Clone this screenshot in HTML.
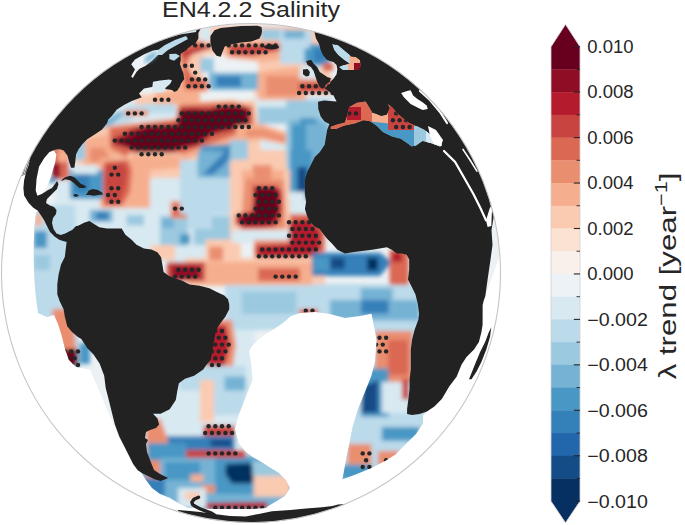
<!DOCTYPE html><html><head><meta charset="utf-8"><style>html,body{margin:0;padding:0;background:#fff}body{width:685px;height:525px;overflow:hidden}svg{display:block}text{font-family:"Liberation Sans",sans-serif;fill:#262626}</style></head><body>
<svg width="685" height="525" viewBox="0 0 685 525">
<defs><clipPath id="g"><circle cx="251" cy="273" r="249.5"/></clipPath><clipPath id="dom"><polygon points="100.0,0.0 470.0,0.0 520.0,200.0 484.0,300.0 482.0,325.0 479.0,342.0 474.0,350.0 466.0,357.0 461.0,364.0 456.0,377.0 449.0,387.0 442.0,399.0 434.0,406.0 423.0,415.0 423.0,423.5 416.0,434.0 405.8,444.0 395.5,454.4 385.0,461.0 371.5,468.0 354.3,475.0 340.6,480.0 330.0,485.0 300.0,490.0 285.0,496.0 270.0,505.0 266.0,508.0 252.0,509.0 238.0,509.0 222.0,509.0 210.0,509.0 196.0,508.0 188.0,508.0 180.0,504.0 170.0,498.0 160.0,494.0 152.0,488.0 146.0,480.0 120.0,440.0 90.0,370.0 76.0,367.0 69.0,360.0 65.0,349.0 61.5,335.0 58.0,324.0 54.0,315.0 47.0,317.0 38.0,313.0 36.0,298.0 34.4,280.0 33.7,262.0 33.7,244.0 34.4,226.0 36.0,213.0 40.0,208.0 45.0,150.0 60.0,120.0"/></clipPath><filter id="bl" x="-5%" y="-5%" width="110%" height="110%"><feGaussianBlur stdDeviation="2.2"/></filter></defs>
<g clip-path="url(#g)">
<rect x="0" y="0" width="685" height="525" fill="#fff"/>
<g clip-path="url(#dom)">
<polygon points="100.0,0.0 470.0,0.0 520.0,200.0 484.0,300.0 482.0,325.0 479.0,342.0 474.0,350.0 466.0,357.0 461.0,364.0 456.0,377.0 449.0,387.0 442.0,399.0 434.0,406.0 423.0,415.0 423.0,423.5 416.0,434.0 405.8,444.0 395.5,454.4 385.0,461.0 371.5,468.0 354.3,475.0 340.6,480.0 330.0,485.0 300.0,490.0 285.0,496.0 270.0,505.0 266.0,508.0 252.0,509.0 238.0,509.0 222.0,509.0 210.0,509.0 196.0,508.0 188.0,508.0 180.0,504.0 170.0,498.0 160.0,494.0 152.0,488.0 146.0,480.0 120.0,440.0 90.0,370.0 76.0,367.0 69.0,360.0 65.0,349.0 61.5,335.0 58.0,324.0 54.0,315.0 47.0,317.0 38.0,313.0 36.0,298.0 34.4,280.0 33.7,262.0 33.7,244.0 34.4,226.0 36.0,213.0 40.0,208.0 45.0,150.0 60.0,120.0" fill="#ecf1f4"/>
<g filter="url(#bl)">
<polygon points="165.0,26.0 330.0,26.0 330.0,100.0 255.0,100.0 250.0,60.0 205.0,60.0 200.0,95.0 165.0,95.0" fill="#facab1"/>
<polygon points="60.0,95.0 135.0,95.0 135.0,160.0 60.0,160.0" fill="#d8e9f1"/>
<polygon points="135.0,95.0 200.0,92.0 200.0,105.0 255.0,100.0 262.0,160.0 135.0,165.0" fill="#facab1"/>
<polygon points="255.0,95.0 335.0,95.0 335.0,215.0 285.0,215.0 285.0,150.0 262.0,150.0" fill="#d8e9f1"/>
<polygon points="55.0,160.0 240.0,160.0 240.0,262.0 55.0,262.0" fill="#d8e9f1"/>
<polygon points="230.0,150.0 290.0,150.0 292.0,240.0 230.0,240.0" fill="#facab1"/>
<polygon points="185.0,258.0 325.0,258.0 325.0,286.0 185.0,286.0" fill="#facab1"/>
<polygon points="225.0,284.0 425.0,284.0 425.0,330.0 225.0,330.0" fill="#bbdaea"/>
<polygon points="140.0,330.0 255.0,330.0 255.0,460.0 140.0,460.0" fill="#d8e9f1"/>
<polygon points="140.0,455.0 300.0,455.0 300.0,512.0 140.0,512.0" fill="#75b2d4"/>
<polygon points="335.0,315.0 430.0,315.0 430.0,485.0 335.0,485.0" fill="#bbdaea"/>
<polygon points="30.0,205.0 75.0,205.0 80.0,372.0 30.0,372.0" fill="#bbdaea"/>
<polygon points="176.0,40.0 205.0,40.0 205.0,50.0 192.0,56.0 188.0,70.0 194.0,78.0 208.0,80.0 208.0,92.0 172.0,92.0 182.0,80.0 180.0,62.0 176.0,50.0" fill="#f6af8e"/>
<polygon points="177.0,42.0 206.0,42.0 204.0,50.0 192.0,54.0 186.0,64.0 192.0,76.0 207.0,81.0 206.0,90.0 185.0,90.0 183.0,75.0 181.0,58.0" fill="#da6853"/>
<polygon points="180.0,53.0 212.0,44.0 212.0,48.0 184.0,56.0" fill="#b41c2d"/>
<polygon points="199.0,27.0 211.0,27.0 211.0,41.0 199.0,41.0" fill="#d8e9f1"/>
<polygon points="205.0,55.0 258.0,55.0 258.0,73.0 205.0,73.0" fill="#ecf2f5"/>
<polygon points="209.0,72.5 258.0,72.5 258.0,90.0 209.0,90.0" fill="#75b2d4"/>
<polygon points="216.0,76.0 241.0,76.0 241.0,87.0 216.0,87.0" fill="#3480b9"/>
<polygon points="200.0,58.0 214.0,58.0 214.0,72.0 200.0,72.0" fill="#9bc9e0"/>
<polygon points="222.0,42.0 290.0,41.0 292.0,58.0 262.0,62.0 226.0,58.0" fill="#f6af8e"/>
<polygon points="228.0,45.0 282.0,44.0 282.0,50.0 264.0,53.5 253.0,56.0 230.0,55.0" fill="#c84440"/>
<polygon points="261.0,29.0 285.0,29.0 285.0,40.0 261.0,40.0" fill="#9bc9e0"/>
<polygon points="280.0,30.0 312.0,30.0 312.0,64.0 280.0,64.0" fill="#bbdaea"/>
<polygon points="284.0,30.0 304.5,30.0 304.5,38.4 284.0,38.4" fill="#75b2d4"/>
<polygon points="304.5,48.6 316.7,48.6 316.7,63.0 304.5,63.0" fill="#4997c5"/>
<polygon points="258.0,72.0 305.0,66.0 306.0,100.0 258.0,100.0" fill="#f6af8e"/>
<polygon points="266.0,76.0 298.0,76.0 298.0,96.0 266.0,96.0" fill="#ea8e70"/>
<polygon points="310.0,44.0 330.0,44.0 330.0,66.0 310.0,66.0" fill="#4997c5"/>
<polygon points="314.0,49.0 326.0,49.0 326.0,62.0 314.0,62.0" fill="#3480b9"/>
<polygon points="300.0,66.0 320.0,66.0 320.0,80.0 300.0,80.0" fill="#d8e9f1"/>
<polygon points="298.0,79.0 333.0,79.0 333.0,93.0 298.0,93.0" fill="#ea8e70"/>
<polygon points="299.0,83.0 332.0,83.0 332.0,92.0 299.0,92.0" fill="#c84440"/>
<polygon points="323.0,63.0 333.0,63.0 333.0,71.0 323.0,71.0" fill="#da6853"/>
<polygon points="154.7,92.0 200.0,92.0 200.0,104.0 154.7,104.0" fill="#f6af8e"/>
<polygon points="105.2,121.0 130.0,105.7 150.0,103.8 176.0,104.0 176.0,118.0 150.0,120.0 131.9,121.0 112.9,128.6 97.6,138.1 90.0,147.6 84.3,143.8 93.8,132.4" fill="#bbdaea"/>
<polygon points="100.0,123.0 118.0,112.0 126.0,112.0 112.0,124.0 98.0,134.0" fill="#75b2d4"/>
<polygon points="132.7,113.0 177.0,113.0 177.0,124.0 132.7,124.0" fill="#d8e9f1"/>
<polygon points="125.0,110.0 148.0,110.0 148.0,116.0 125.0,116.0" fill="#ea8e70"/>
<polygon points="76.0,132.0 112.0,126.0 118.0,168.0 76.0,168.0" fill="#facab1"/>
<polygon points="82.0,140.0 110.0,134.0 116.0,166.0 84.0,166.0" fill="#f6af8e"/>
<polygon points="90.0,148.0 108.0,148.0 108.0,162.0 90.0,162.0" fill="#ea8e70"/>
<polygon points="108.0,126.0 176.0,118.0 180.0,103.0 232.0,100.0 254.0,105.0 256.0,130.0 240.0,140.0 210.0,150.0 185.0,160.0 160.0,162.0 130.0,162.0 105.0,152.0" fill="#f6af8e"/>
<polygon points="110.0,128.0 176.0,120.0 179.0,105.0 232.0,103.0 252.0,107.0 253.0,129.0 235.0,135.0 210.0,144.0 185.0,153.0 160.0,159.0 130.0,158.0 110.0,148.0" fill="#da6853"/>
<polygon points="130.4,130.0 146.7,125.4 177.1,124.2 179.4,109.0 193.4,107.8 207.5,109.0 221.5,105.5 240.2,105.5 249.5,109.0 249.5,127.7 230.8,130.0 212.1,134.7 198.1,145.2 181.8,148.7 170.1,153.4 158.4,155.7 139.7,155.7 130.4,148.7 114.0,144.0 111.7,139.4 123.4,134.7" fill="#900d26"/>
<polygon points="128.0,140.0 147.0,129.0 178.0,127.0 182.0,112.0 205.0,111.0 232.0,108.0 246.0,110.0 246.0,124.0 230.0,127.0 210.0,132.0 196.0,142.0 178.0,146.0 158.0,152.0 140.0,152.0 128.0,146.0 118.0,142.0" fill="#67001f"/>
<polygon points="200.4,146.0 231.0,144.0 228.0,160.0 212.0,172.0 200.0,172.0" fill="#4997c5"/>
<polygon points="214.0,150.0 226.0,150.0 220.0,162.0 210.0,166.0" fill="#2267ac"/>
<polygon points="258.0,107.0 286.0,107.0 286.0,125.0 258.0,125.0" fill="#9bc9e0"/>
<polygon points="262.0,124.0 286.0,124.0 286.0,135.0 262.0,135.0" fill="#ecf2f5"/>
<polygon points="236.0,126.0 262.0,124.0 292.0,134.0 292.0,146.0 262.0,140.0 236.0,142.0" fill="#f6af8e"/>
<polygon points="246.0,130.0 262.0,129.0 286.0,137.0 284.0,142.0 262.0,136.0 246.0,137.0" fill="#ea8e70"/>
<polygon points="286.0,100.0 330.0,100.0 330.0,170.0 286.0,170.0" fill="#9bc9e0"/>
<polygon points="290.0,120.0 322.0,120.0 322.0,175.0 290.0,175.0" fill="#75b2d4"/>
<polygon points="292.0,125.0 310.0,125.0 318.0,150.0 300.0,165.0 292.0,150.0" fill="#4997c5"/>
<polygon points="300.0,118.0 316.0,118.0 318.0,145.0 300.0,145.0" fill="#4997c5"/>
<polygon points="306.0,124.0 328.0,124.0 328.0,160.0 306.0,160.0" fill="#75b2d4"/>
<polygon points="290.0,150.0 312.0,150.0 312.0,200.0 290.0,200.0" fill="#4997c5"/>
<polygon points="297.4,167.0 307.3,167.0 307.3,191.8 297.4,191.8" fill="#134c87"/>
<polygon points="288.0,192.0 305.0,192.0 305.0,214.0 288.0,214.0" fill="#d8e9f1"/>
<polygon points="128.0,153.0 181.0,153.0 181.0,178.0 128.0,178.0" fill="#facab1"/>
<polygon points="132.0,155.0 180.0,155.0 180.0,168.0 132.0,172.0" fill="#f6af8e"/>
<polygon points="100.0,158.0 150.0,158.0 150.0,208.0 100.0,208.0" fill="#f6af8e"/>
<polygon points="104.0,162.0 128.0,160.0 132.0,170.0 130.0,192.0 122.0,206.0 104.0,206.0 102.0,180.0" fill="#da6853"/>
<polygon points="106.0,164.0 124.0,163.0 127.0,170.0 125.0,186.0 119.0,204.0 107.0,204.0 105.0,185.0" fill="#c84440"/>
<polygon points="70.0,170.0 103.0,170.0 103.0,199.0 70.0,199.0" fill="#4997c5"/>
<polygon points="75.0,173.0 89.0,173.0 89.0,192.0 75.0,192.0" fill="#3480b9"/>
<polygon points="72.9,165.0 97.6,165.0 97.6,174.0 72.9,174.0" fill="#d8e9f1"/>
<polygon points="74.0,140.0 85.0,140.0 85.0,160.0 74.0,160.0" fill="#9bc9e0"/>
<polygon points="52.0,147.6 69.0,147.6 69.0,180.0 52.0,180.0" fill="#da6853"/>
<polygon points="58.0,150.0 68.0,150.0 68.0,162.0 58.0,162.0" fill="#f6af8e"/>
<polygon points="52.0,163.0 60.0,163.0 60.0,178.0 52.0,178.0" fill="#900d26"/>
<polygon points="49.0,177.7 56.0,177.7 56.0,183.0 49.0,183.0" fill="#4997c5"/>
<polygon points="89.8,209.8 112.6,209.8 112.6,222.0 89.8,222.0" fill="#75b2d4"/>
<polygon points="96.0,212.0 108.0,212.0 108.0,220.0 96.0,220.0" fill="#3480b9"/>
<polygon points="126.6,215.0 144.0,215.0 144.0,225.5 126.6,225.5" fill="#9bc9e0"/>
<polygon points="160.0,216.0 188.0,216.0 188.0,246.0 160.0,246.0" fill="#9bc9e0"/>
<polygon points="162.0,218.0 174.0,218.0 174.0,228.0 162.0,228.0" fill="#75b2d4"/>
<polygon points="170.6,201.0 188.0,201.0 188.0,218.5 170.6,218.5" fill="#ea8e70"/>
<polygon points="173.0,204.0 186.0,204.0 186.0,216.0 173.0,216.0" fill="#da6853"/>
<polygon points="193.8,215.7 230.0,215.7 230.0,245.0 193.8,245.0" fill="#9bc9e0"/>
<polygon points="151.0,245.0 175.0,245.0 175.0,260.0 151.0,260.0" fill="#facab1"/>
<polygon points="205.6,239.6 240.7,239.6 240.7,260.6 205.6,260.6" fill="#facab1"/>
<polygon points="209.0,246.6 223.0,246.6 223.0,260.6 209.0,260.6" fill="#ea8e70"/>
<polygon points="180.0,160.0 229.5,160.0 229.5,214.0 180.0,214.0" fill="#bbdaea"/>
<polygon points="197.6,151.0 230.0,151.0 230.0,177.6 197.6,177.6" fill="#75b2d4"/>
<polygon points="229.5,145.0 222.0,154.9 212.2,164.8 204.8,172.2 202.3,174.7 212.2,174.7 224.6,164.8 229.5,157.3 233.2,149.9" fill="#3480b9"/>
<polygon points="230.0,140.0 248.0,140.0 248.0,161.0 230.0,161.0" fill="#9bc9e0"/>
<polygon points="233.0,160.0 286.0,158.0 292.0,234.0 233.0,234.0" fill="#facab1"/>
<polygon points="242.0,170.0 284.0,170.0 284.0,232.0 242.0,232.0" fill="#f6af8e"/>
<polygon points="246.0,178.0 284.0,180.0 286.0,228.0 240.0,230.0" fill="#ea8e70"/>
<polygon points="252.0,165.0 272.0,165.0 270.0,185.0 256.0,185.0" fill="#ea8e70"/>
<polygon points="253.0,185.8 276.5,185.8 281.5,192.0 281.5,211.8 279.0,221.7 274.1,226.6 261.7,227.9 244.4,227.9 235.7,224.2 235.7,214.3 244.4,213.0 251.8,211.8 253.0,201.9" fill="#b41c2d"/>
<polygon points="256.0,188.0 278.0,190.0 278.0,212.0 272.0,222.0 245.0,224.0 240.0,217.0 254.0,214.0" fill="#67001f"/>
<polygon points="187.0,214.0 212.0,214.0 212.0,229.0 187.0,229.0" fill="#bbdaea"/>
<polygon points="180.0,234.0 190.0,234.0 190.0,244.0 180.0,244.0" fill="#4997c5"/>
<polygon points="232.0,230.0 289.0,230.0 289.0,243.0 232.0,243.0" fill="#d8e9f1"/>
<polygon points="290.0,214.0 324.7,214.0 324.7,252.0 290.0,252.0" fill="#da6853"/>
<polygon points="254.0,240.0 322.0,240.0 322.0,258.0 254.0,258.0" fill="#ea8e70"/>
<polygon points="289.0,221.7 310.0,219.2 320.0,232.0 321.0,250.0 310.0,256.0 300.0,257.0 256.7,257.6 256.7,245.2 289.0,244.0" fill="#b41c2d"/>
<polygon points="188.0,262.0 312.0,262.0 312.0,285.0 188.0,285.0" fill="#f6af8e"/>
<polygon points="258.0,268.0 300.0,268.0 300.0,281.0 258.0,281.0" fill="#da6853"/>
<polygon points="167.0,262.0 205.0,262.0 205.0,281.0 167.0,281.0" fill="#c84440"/>
<polygon points="172.0,266.0 200.0,266.0 200.0,279.0 172.0,279.0" fill="#900d26"/>
<polygon points="312.0,252.8 380.0,252.8 392.0,262.0 380.0,276.0 312.0,276.0" fill="#3480b9"/>
<polygon points="322.0,257.7 344.5,257.7 344.5,269.0 322.0,269.0" fill="#134c87"/>
<polygon points="367.0,257.7 378.0,257.7 378.0,270.5 367.0,270.5" fill="#053061"/>
<polygon points="389.5,249.6 408.7,249.6 408.7,285.0 389.5,285.0" fill="#da6853"/>
<polygon points="392.0,252.0 402.0,252.0 402.0,262.0 392.0,262.0" fill="#b41c2d"/>
<polygon points="314.0,257.0 330.0,257.0 330.0,271.0 314.0,271.0" fill="#4997c5"/>
<polygon points="360.6,288.0 392.7,288.0 392.7,320.0 360.6,320.0" fill="#75b2d4"/>
<polygon points="254.7,295.6 286.0,295.6 286.0,309.6 254.7,309.6" fill="#75b2d4"/>
<polygon points="241.7,291.4 296.3,291.4 296.3,313.9 241.7,313.9" fill="#9bc9e0"/>
<polygon points="299.5,309.0 318.0,309.0 318.0,318.0 299.5,318.0" fill="#da6853"/>
<polygon points="330.0,300.0 419.5,300.0 419.5,320.6 330.0,320.6" fill="#75b2d4"/>
<polygon points="361.0,300.0 388.6,300.0 388.6,313.7 361.0,313.7" fill="#3480b9"/>
<polygon points="205.0,320.0 232.0,320.0 236.0,345.0 232.0,372.0 205.0,372.0" fill="#ea8e70"/>
<polygon points="207.0,325.0 226.0,325.0 230.0,345.0 224.0,368.0 207.0,368.0" fill="#b41c2d"/>
<polygon points="179.0,366.0 245.6,366.0 245.6,415.0 179.0,415.0" fill="#bbdaea"/>
<polygon points="200.0,380.0 214.0,380.0 214.0,422.0 200.0,422.0" fill="#facab1"/>
<polygon points="224.6,376.5 245.6,376.5 245.6,390.5 224.6,390.5" fill="#75b2d4"/>
<polygon points="158.0,390.5 200.0,390.5 200.0,432.6 158.0,432.6" fill="#d8e9f1"/>
<polygon points="203.6,425.6 235.0,425.6 235.0,439.6 203.6,439.6" fill="#c84440"/>
<polygon points="151.0,436.0 235.0,436.0 235.0,450.0 151.0,450.0" fill="#3480b9"/>
<polygon points="210.6,439.6 231.6,439.6 231.6,446.6 210.6,446.6" fill="#134c87"/>
<polygon points="186.0,450.0 245.6,450.0 245.6,460.6 186.0,460.6" fill="#c84440"/>
<polygon points="146.0,425.0 160.0,418.0 168.0,440.0 168.0,478.0 146.0,478.0" fill="#ea8e70"/>
<polygon points="147.5,443.0 186.0,443.0 186.0,460.6 147.5,460.6" fill="#4997c5"/>
<polygon points="160.0,458.0 221.0,458.0 221.0,500.0 160.0,500.0" fill="#75b2d4"/>
<polygon points="165.0,462.0 200.0,462.0 200.0,480.0 165.0,480.0" fill="#4997c5"/>
<polygon points="190.5,474.5 203.6,474.5 203.6,481.6 190.5,481.6" fill="#f6af8e"/>
<polygon points="201.0,485.0 230.0,485.0 230.0,492.8 201.0,492.8" fill="#ea8e70"/>
<polygon points="215.0,458.0 262.0,458.0 262.0,494.0 215.0,494.0" fill="#4997c5"/>
<polygon points="226.0,464.0 250.0,463.0 256.0,472.0 252.0,483.6 232.0,483.6 225.0,474.0" fill="#053061"/>
<polygon points="253.6,475.8 290.4,475.8 290.4,496.8 253.6,496.8" fill="#facab1"/>
<polygon points="252.6,460.6 287.7,460.6 287.7,476.0 252.6,476.0" fill="#9bc9e0"/>
<polygon points="140.5,478.0 165.0,478.0 165.0,496.0 140.5,496.0" fill="#3480b9"/>
<polygon points="178.0,488.0 206.0,488.0 206.0,508.0 178.0,508.0" fill="#d8e9f1"/>
<polygon points="185.0,492.0 200.0,492.0 200.0,500.0 185.0,500.0" fill="#facab1"/>
<polygon points="206.0,503.0 267.0,502.0 267.0,509.0 206.0,509.0" fill="#b41c2d"/>
<polygon points="375.0,331.0 412.7,331.0 412.7,382.0 375.0,382.0" fill="#ea8e70"/>
<polygon points="388.0,340.0 408.0,340.0 408.0,375.0 388.0,375.0" fill="#da6853"/>
<polygon points="361.0,368.6 388.6,368.6 388.6,416.7 361.0,416.7" fill="#4997c5"/>
<polygon points="364.0,385.8 378.0,380.0 378.0,413.0 361.0,413.0" fill="#134c87"/>
<polygon points="381.8,382.0 409.0,382.0 409.0,413.0 381.8,413.0" fill="#d8e9f1"/>
<polygon points="402.0,379.0 409.0,379.0 409.0,399.5 402.0,399.5" fill="#c84440"/>
<polygon points="381.8,427.0 419.5,427.0 419.5,440.7 381.8,440.7" fill="#4997c5"/>
<polygon points="347.5,444.0 371.5,444.0 371.5,464.7 347.5,464.7" fill="#ea8e70"/>
<polygon points="378.0,451.0 399.0,451.0 399.0,468.0 378.0,468.0" fill="#ea8e70"/>
<polygon points="340.6,464.7 371.5,464.7 371.5,480.0 340.6,480.0" fill="#4997c5"/>
<polygon points="34.0,231.0 47.0,231.0 47.0,248.0 34.0,248.0" fill="#4997c5"/>
<polygon points="34.0,255.0 50.0,255.0 50.0,270.0 34.0,270.0" fill="#9bc9e0"/>
<polygon points="52.0,309.0 72.0,309.0 78.0,367.0 58.0,367.0" fill="#ea8e70"/>
<polygon points="63.0,349.0 78.0,349.0 78.0,367.0 63.0,367.0" fill="#67001f"/>
<polygon points="79.6,343.0 90.0,343.0 90.0,364.0 79.6,364.0" fill="#4997c5"/>
<polygon points="35.6,213.5 42.0,213.5 42.0,226.0 35.6,226.0" fill="#f6af8e"/>
</g>
<g fill="#262626"><circle cx="218.7" cy="106.6" r="2.2"/><circle cx="225.4" cy="106.6" r="2.2"/><circle cx="232.1" cy="106.6" r="2.2"/><circle cx="238.8" cy="106.6" r="2.2"/><circle cx="181.8" cy="113.4" r="2.2"/><circle cx="188.5" cy="113.4" r="2.2"/><circle cx="195.2" cy="113.4" r="2.2"/><circle cx="201.9" cy="113.4" r="2.2"/><circle cx="208.6" cy="113.4" r="2.2"/><circle cx="215.3" cy="113.4" r="2.2"/><circle cx="222.0" cy="113.4" r="2.2"/><circle cx="228.7" cy="113.4" r="2.2"/><circle cx="235.4" cy="113.4" r="2.2"/><circle cx="242.1" cy="113.4" r="2.2"/><circle cx="248.8" cy="113.4" r="2.2"/><circle cx="178.5" cy="120.2" r="2.2"/><circle cx="185.2" cy="120.2" r="2.2"/><circle cx="191.9" cy="120.2" r="2.2"/><circle cx="198.6" cy="120.2" r="2.2"/><circle cx="205.2" cy="120.2" r="2.2"/><circle cx="212.0" cy="120.2" r="2.2"/><circle cx="218.7" cy="120.2" r="2.2"/><circle cx="225.4" cy="120.2" r="2.2"/><circle cx="232.1" cy="120.2" r="2.2"/><circle cx="238.8" cy="120.2" r="2.2"/><circle cx="245.4" cy="120.2" r="2.2"/><circle cx="141.6" cy="127.0" r="2.2"/><circle cx="148.3" cy="127.0" r="2.2"/><circle cx="155.0" cy="127.0" r="2.2"/><circle cx="161.7" cy="127.0" r="2.2"/><circle cx="168.4" cy="127.0" r="2.2"/><circle cx="175.1" cy="127.0" r="2.2"/><circle cx="181.8" cy="127.0" r="2.2"/><circle cx="188.5" cy="127.0" r="2.2"/><circle cx="195.2" cy="127.0" r="2.2"/><circle cx="201.9" cy="127.0" r="2.2"/><circle cx="208.6" cy="127.0" r="2.2"/><circle cx="215.3" cy="127.0" r="2.2"/><circle cx="222.0" cy="127.0" r="2.2"/><circle cx="228.7" cy="127.0" r="2.2"/><circle cx="235.4" cy="127.0" r="2.2"/><circle cx="242.1" cy="127.0" r="2.2"/><circle cx="248.8" cy="127.0" r="2.2"/><circle cx="124.9" cy="133.8" r="2.2"/><circle cx="131.6" cy="133.8" r="2.2"/><circle cx="138.2" cy="133.8" r="2.2"/><circle cx="145.0" cy="133.8" r="2.2"/><circle cx="151.7" cy="133.8" r="2.2"/><circle cx="158.3" cy="133.8" r="2.2"/><circle cx="165.1" cy="133.8" r="2.2"/><circle cx="171.8" cy="133.8" r="2.2"/><circle cx="178.5" cy="133.8" r="2.2"/><circle cx="185.2" cy="133.8" r="2.2"/><circle cx="191.9" cy="133.8" r="2.2"/><circle cx="198.6" cy="133.8" r="2.2"/><circle cx="205.2" cy="133.8" r="2.2"/><circle cx="212.0" cy="133.8" r="2.2"/><circle cx="114.8" cy="140.6" r="2.2"/><circle cx="121.5" cy="140.6" r="2.2"/><circle cx="128.2" cy="140.6" r="2.2"/><circle cx="134.9" cy="140.6" r="2.2"/><circle cx="141.6" cy="140.6" r="2.2"/><circle cx="148.3" cy="140.6" r="2.2"/><circle cx="155.0" cy="140.6" r="2.2"/><circle cx="161.7" cy="140.6" r="2.2"/><circle cx="168.4" cy="140.6" r="2.2"/><circle cx="175.1" cy="140.6" r="2.2"/><circle cx="181.8" cy="140.6" r="2.2"/><circle cx="188.5" cy="140.6" r="2.2"/><circle cx="195.2" cy="140.6" r="2.2"/><circle cx="201.9" cy="140.6" r="2.2"/><circle cx="131.6" cy="147.4" r="2.2"/><circle cx="138.2" cy="147.4" r="2.2"/><circle cx="145.0" cy="147.4" r="2.2"/><circle cx="151.7" cy="147.4" r="2.2"/><circle cx="158.3" cy="147.4" r="2.2"/><circle cx="165.1" cy="147.4" r="2.2"/><circle cx="171.8" cy="147.4" r="2.2"/><circle cx="178.5" cy="147.4" r="2.2"/><circle cx="185.2" cy="147.4" r="2.2"/><circle cx="141.6" cy="154.2" r="2.2"/><circle cx="148.3" cy="154.2" r="2.2"/><circle cx="155.0" cy="154.2" r="2.2"/><circle cx="161.7" cy="154.2" r="2.2"/></g>
<g fill="#262626"><circle cx="258.9" cy="188.2" r="2.2"/><circle cx="265.6" cy="188.2" r="2.2"/><circle cx="272.2" cy="188.2" r="2.2"/><circle cx="255.5" cy="195.0" r="2.2"/><circle cx="262.2" cy="195.0" r="2.2"/><circle cx="268.9" cy="195.0" r="2.2"/><circle cx="275.6" cy="195.0" r="2.2"/><circle cx="258.9" cy="201.8" r="2.2"/><circle cx="265.6" cy="201.8" r="2.2"/><circle cx="272.2" cy="201.8" r="2.2"/><circle cx="278.9" cy="201.8" r="2.2"/><circle cx="255.5" cy="208.6" r="2.2"/><circle cx="262.2" cy="208.6" r="2.2"/><circle cx="268.9" cy="208.6" r="2.2"/><circle cx="275.6" cy="208.6" r="2.2"/><circle cx="238.8" cy="215.4" r="2.2"/><circle cx="245.4" cy="215.4" r="2.2"/><circle cx="252.2" cy="215.4" r="2.2"/><circle cx="258.9" cy="215.4" r="2.2"/><circle cx="265.6" cy="215.4" r="2.2"/><circle cx="272.2" cy="215.4" r="2.2"/><circle cx="278.9" cy="215.4" r="2.2"/><circle cx="242.1" cy="222.2" r="2.2"/><circle cx="248.8" cy="222.2" r="2.2"/><circle cx="255.5" cy="222.2" r="2.2"/><circle cx="262.2" cy="222.2" r="2.2"/><circle cx="268.9" cy="222.2" r="2.2"/><circle cx="275.6" cy="222.2" r="2.2"/></g>
<g fill="#262626"><circle cx="289.0" cy="222.2" r="2.2"/><circle cx="295.7" cy="222.2" r="2.2"/><circle cx="302.4" cy="222.2" r="2.2"/><circle cx="309.1" cy="222.2" r="2.2"/><circle cx="292.4" cy="229.0" r="2.2"/><circle cx="299.1" cy="229.0" r="2.2"/><circle cx="305.8" cy="229.0" r="2.2"/><circle cx="312.5" cy="229.0" r="2.2"/><circle cx="289.0" cy="235.8" r="2.2"/><circle cx="295.7" cy="235.8" r="2.2"/><circle cx="302.4" cy="235.8" r="2.2"/><circle cx="309.1" cy="235.8" r="2.2"/><circle cx="315.8" cy="235.8" r="2.2"/><circle cx="292.4" cy="242.6" r="2.2"/><circle cx="299.1" cy="242.6" r="2.2"/><circle cx="305.8" cy="242.6" r="2.2"/><circle cx="312.5" cy="242.6" r="2.2"/><circle cx="319.1" cy="242.6" r="2.2"/><circle cx="262.2" cy="249.4" r="2.2"/><circle cx="268.9" cy="249.4" r="2.2"/><circle cx="275.6" cy="249.4" r="2.2"/><circle cx="282.3" cy="249.4" r="2.2"/><circle cx="289.0" cy="249.4" r="2.2"/><circle cx="295.7" cy="249.4" r="2.2"/><circle cx="302.4" cy="249.4" r="2.2"/><circle cx="309.1" cy="249.4" r="2.2"/><circle cx="315.8" cy="249.4" r="2.2"/><circle cx="258.9" cy="256.2" r="2.2"/><circle cx="265.6" cy="256.2" r="2.2"/><circle cx="272.2" cy="256.2" r="2.2"/><circle cx="278.9" cy="256.2" r="2.2"/><circle cx="285.6" cy="256.2" r="2.2"/><circle cx="292.4" cy="256.2" r="2.2"/><circle cx="299.1" cy="256.2" r="2.2"/><circle cx="305.8" cy="256.2" r="2.2"/></g>
<g fill="#262626"><circle cx="228.7" cy="45.4" r="2.2"/><circle cx="235.4" cy="45.4" r="2.2"/><circle cx="242.1" cy="45.4" r="2.2"/><circle cx="248.8" cy="45.4" r="2.2"/><circle cx="255.5" cy="45.4" r="2.2"/><circle cx="262.2" cy="45.4" r="2.2"/><circle cx="268.9" cy="45.4" r="2.2"/><circle cx="275.6" cy="45.4" r="2.2"/><circle cx="232.1" cy="52.2" r="2.2"/><circle cx="238.8" cy="52.2" r="2.2"/><circle cx="245.4" cy="52.2" r="2.2"/><circle cx="252.2" cy="52.2" r="2.2"/><circle cx="258.9" cy="52.2" r="2.2"/><circle cx="265.6" cy="52.2" r="2.2"/></g>
<g fill="#262626"><circle cx="181.8" cy="45.4" r="2.2"/><circle cx="188.5" cy="45.4" r="2.2"/><circle cx="195.2" cy="45.4" r="2.2"/><circle cx="201.9" cy="45.4" r="2.2"/><circle cx="208.6" cy="45.4" r="2.2"/></g>
<g fill="#262626"><circle cx="185.2" cy="65.8" r="2.2"/><circle cx="191.9" cy="65.8" r="2.2"/></g>
<g fill="#262626"><circle cx="195.2" cy="72.6" r="2.2"/><circle cx="198.6" cy="79.4" r="2.2"/></g>
<g fill="#262626"><circle cx="191.9" cy="79.4" r="2.2"/><circle cx="198.6" cy="79.4" r="2.2"/><circle cx="205.2" cy="79.4" r="2.2"/><circle cx="188.5" cy="86.2" r="2.2"/><circle cx="195.2" cy="86.2" r="2.2"/><circle cx="201.9" cy="86.2" r="2.2"/><circle cx="208.6" cy="86.2" r="2.2"/></g>
<g fill="#262626"><circle cx="155.0" cy="99.8" r="2.2"/><circle cx="161.7" cy="99.8" r="2.2"/><circle cx="168.4" cy="99.8" r="2.2"/></g>
<g fill="#262626"><circle cx="128.2" cy="113.4" r="2.2"/><circle cx="134.9" cy="113.4" r="2.2"/><circle cx="141.6" cy="113.4" r="2.2"/></g>
<g fill="#262626"><circle cx="302.4" cy="86.2" r="2.2"/><circle cx="309.1" cy="86.2" r="2.2"/><circle cx="315.8" cy="86.2" r="2.2"/><circle cx="322.5" cy="86.2" r="2.2"/><circle cx="329.2" cy="86.2" r="2.2"/><circle cx="299.1" cy="93.0" r="2.2"/><circle cx="305.8" cy="93.0" r="2.2"/><circle cx="312.5" cy="93.0" r="2.2"/><circle cx="319.1" cy="93.0" r="2.2"/><circle cx="325.9" cy="93.0" r="2.2"/><circle cx="332.6" cy="93.0" r="2.2"/></g>
<g fill="#262626"><circle cx="111.5" cy="188.2" r="2.2"/><circle cx="118.2" cy="188.2" r="2.2"/><circle cx="108.1" cy="195.0" r="2.2"/><circle cx="114.8" cy="195.0" r="2.2"/><circle cx="111.5" cy="201.8" r="2.2"/><circle cx="118.2" cy="201.8" r="2.2"/></g>
<g fill="#262626"><circle cx="114.8" cy="167.8" r="2.2"/><circle cx="111.5" cy="174.6" r="2.2"/><circle cx="118.2" cy="174.6" r="2.2"/></g>
<g fill="#262626"><circle cx="208.6" cy="331.0" r="2.2"/><circle cx="215.3" cy="331.0" r="2.2"/><circle cx="222.0" cy="331.0" r="2.2"/><circle cx="212.0" cy="337.8" r="2.2"/><circle cx="218.7" cy="337.8" r="2.2"/><circle cx="225.4" cy="337.8" r="2.2"/><circle cx="208.6" cy="344.6" r="2.2"/><circle cx="215.3" cy="344.6" r="2.2"/><circle cx="222.0" cy="344.6" r="2.2"/><circle cx="228.7" cy="344.6" r="2.2"/><circle cx="212.0" cy="351.4" r="2.2"/><circle cx="218.7" cy="351.4" r="2.2"/><circle cx="225.4" cy="351.4" r="2.2"/><circle cx="208.6" cy="358.2" r="2.2"/><circle cx="215.3" cy="358.2" r="2.2"/><circle cx="222.0" cy="358.2" r="2.2"/><circle cx="212.0" cy="365.0" r="2.2"/><circle cx="218.7" cy="365.0" r="2.2"/></g>
<g fill="#262626"><circle cx="178.5" cy="269.8" r="2.2"/><circle cx="185.2" cy="269.8" r="2.2"/><circle cx="191.9" cy="269.8" r="2.2"/><circle cx="198.6" cy="269.8" r="2.2"/><circle cx="175.1" cy="276.6" r="2.2"/><circle cx="181.8" cy="276.6" r="2.2"/><circle cx="188.5" cy="276.6" r="2.2"/><circle cx="195.2" cy="276.6" r="2.2"/></g>
<g fill="#262626"><circle cx="275.6" cy="276.6" r="2.2"/><circle cx="282.3" cy="276.6" r="2.2"/><circle cx="289.0" cy="276.6" r="2.2"/><circle cx="295.7" cy="276.6" r="2.2"/></g>
<g fill="#262626"><circle cx="208.6" cy="426.2" r="2.2"/><circle cx="215.3" cy="426.2" r="2.2"/><circle cx="222.0" cy="426.2" r="2.2"/><circle cx="228.7" cy="426.2" r="2.2"/><circle cx="205.2" cy="433.0" r="2.2"/><circle cx="212.0" cy="433.0" r="2.2"/><circle cx="218.7" cy="433.0" r="2.2"/><circle cx="225.4" cy="433.0" r="2.2"/><circle cx="232.1" cy="433.0" r="2.2"/></g>
<g fill="#262626"><circle cx="208.6" cy="453.4" r="2.2"/><circle cx="215.3" cy="453.4" r="2.2"/><circle cx="222.0" cy="453.4" r="2.2"/><circle cx="228.7" cy="453.4" r="2.2"/><circle cx="235.4" cy="453.4" r="2.2"/></g>
<g fill="#262626"><circle cx="215.3" cy="507.8" r="2.2"/><circle cx="222.0" cy="507.8" r="2.2"/><circle cx="228.7" cy="507.8" r="2.2"/><circle cx="235.4" cy="507.8" r="2.2"/><circle cx="242.1" cy="507.8" r="2.2"/><circle cx="248.8" cy="507.8" r="2.2"/><circle cx="255.5" cy="507.8" r="2.2"/><circle cx="262.2" cy="507.8" r="2.2"/></g>
<g fill="#262626"><circle cx="64.5" cy="351.4" r="2.2"/><circle cx="71.2" cy="351.4" r="2.2"/><circle cx="78.0" cy="351.4" r="2.2"/><circle cx="67.9" cy="358.2" r="2.2"/><circle cx="74.6" cy="358.2" r="2.2"/><circle cx="64.5" cy="365.0" r="2.2"/><circle cx="71.2" cy="365.0" r="2.2"/><circle cx="78.0" cy="365.0" r="2.2"/></g>
<g fill="#262626"><circle cx="175.1" cy="208.6" r="2.2"/><circle cx="181.8" cy="208.6" r="2.2"/></g>
<g fill="#262626"><circle cx="379.5" cy="337.8" r="2.2"/><circle cx="386.1" cy="337.8" r="2.2"/><circle cx="376.1" cy="344.6" r="2.2"/><circle cx="382.8" cy="344.6" r="2.2"/><circle cx="379.5" cy="351.4" r="2.2"/><circle cx="386.1" cy="351.4" r="2.2"/></g>
<g fill="#262626"><circle cx="305.8" cy="310.6" r="2.2"/><circle cx="312.5" cy="310.6" r="2.2"/><circle cx="302.4" cy="317.4" r="2.2"/><circle cx="309.1" cy="317.4" r="2.2"/></g>
<g fill="#262626"><circle cx="362.7" cy="453.4" r="2.2"/><circle cx="369.4" cy="453.4" r="2.2"/><circle cx="366.1" cy="460.2" r="2.2"/><circle cx="362.7" cy="467.0" r="2.2"/><circle cx="369.4" cy="467.0" r="2.2"/></g>
<g fill="#262626"><circle cx="386.1" cy="460.2" r="2.2"/><circle cx="392.9" cy="460.2" r="2.2"/><circle cx="382.8" cy="467.0" r="2.2"/><circle cx="389.5" cy="467.0" r="2.2"/><circle cx="386.1" cy="473.8" r="2.2"/><circle cx="392.9" cy="473.8" r="2.2"/></g>
</g>
<polygon points="53.7,150.3 56.3,154.6 55.4,161.4 52.9,170.0 50.3,178.6 46.9,187.1 41.7,194.0 37.4,195.7 35.7,190.6 36.6,178.6 39.1,166.6 44.3,158.0 49.4,152.0" fill="#fff"/>
<polygon points="300.0,313.0 291.0,316.0 283.0,323.0 274.0,329.0 266.0,334.0 258.0,340.0 252.0,346.0 249.0,351.0 251.0,363.0 252.6,380.0 245.6,397.5 238.6,415.0 235.0,429.0 238.6,443.0 245.0,451.0 252.6,457.0 261.5,462.0 270.0,467.6 279.0,473.0 286.0,480.0 290.0,488.0 285.0,496.0 275.0,503.0 267.0,507.0 267.0,530.0 400.0,530.0 342.3,480.0 345.7,461.3 349.2,444.0 352.6,427.0 357.7,409.8 364.6,392.7 371.5,375.5 375.0,361.8 376.6,341.0 375.0,331.0 371.5,313.7 360.0,316.0 345.0,318.0 330.0,314.0 315.0,312.0" fill="#fff"/>
<polygon points="401.1,92.9 407.1,91.1 410.6,90.3 413.1,95.4 417.4,98.9 422.6,102.3 426.9,105.7 427.7,109.1 422.6,110.0 417.4,107.4 414.0,105.7 410.6,104.0 407.1,100.6 403.7,97.1" fill="#fff"/>
<polygon points="0.0,0.0 201.0,0.0 201.0,28.0 198.4,33.0 198.4,38.4 194.9,44.2 189.0,46.5 186.7,50.0 180.9,53.5 180.5,56.0 180.9,59.4 180.0,64.0 182.0,70.0 183.2,72.5 184.3,79.0 181.0,83.5 176.6,87.9 172.3,90.0 165.0,89.0 159.0,87.0 152.0,87.0 144.0,88.6 139.0,93.5 141.7,97.2 131.8,100.9 124.4,104.7 116.9,109.6 112.0,115.8 108.3,119.5 107.0,123.2 102.1,129.4 94.7,134.4 87.2,139.3 82.3,144.3 78.6,149.2 76.1,154.2 75.3,161.6 74.4,167.8 71.1,167.8 69.4,162.8 67.4,155.4 63.7,150.4 60.0,149.2 56.0,149.5 53.7,150.3 49.4,152.0 44.3,158.0 39.1,166.6 36.6,178.6 35.7,190.6 37.4,195.7 41.7,194.0 45.0,192.0 48.0,190.0 52.0,188.0 55.0,184.0 57.0,181.0 58.5,184.0 57.0,189.0 53.0,193.0 50.0,196.0 47.0,199.0 46.0,203.0 50.0,205.5 54.0,207.0 56.5,210.0 56.0,214.0 53.0,218.0 52.0,223.0 53.5,229.0 56.5,233.6 60.7,235.1 65.3,233.6 70.0,231.0 74.4,229.0 76.0,226.0 80.0,226.0 80.0,245.0 63.8,241.2 59.2,239.7 54.6,236.6 50.0,232.0 47.0,226.0 44.0,219.9 40.9,215.3 37.9,210.7 33.3,207.7 28.7,203.1 24.1,195.5 23.4,187.9 24.1,180.2 26.4,171.1 28.7,165.0 31.0,155.0 34.8,145.0 38.0,140.0 42.0,133.0 30.0,120.0 0.0,100.0" fill="#222222"/>
<polygon points="67.2,236.0 74.7,227.3 79.6,224.9 84.6,222.4 89.5,221.1 93.2,223.6 99.4,227.3 106.8,228.6 114.3,228.6 121.7,228.6 125.4,234.8 131.6,239.7 136.5,244.7 144.0,248.4 151.4,249.6 157.4,252.3 161.1,257.2 162.4,264.7 163.6,272.1 168.6,275.8 174.8,278.3 182.2,280.7 189.6,284.5 199.5,285.7 209.4,288.2 216.8,291.9 224.3,295.6 228.0,299.3 229.2,304.3 229.2,309.2 225.5,316.6 221.8,321.6 218.1,326.5 215.6,331.5 214.4,338.9 213.1,346.3 211.9,353.8 210.6,360.0 206.3,365.0 203.2,369.6 194.1,375.7 185.0,378.8 178.9,383.3 177.3,391.0 175.8,400.1 169.7,409.2 160.6,413.8 153.0,413.8 157.5,418.4 159.1,424.5 156.0,428.0 150.0,430.0 146.0,432.0 145.0,438.0 148.0,440.0 146.0,444.0 147.0,452.0 150.0,460.0 154.0,470.0 160.0,474.0 168.0,478.0 166.0,479.0 160.6,480.9 154.5,479.3 148.4,476.3 142.3,473.2 137.7,470.2 133.1,464.1 128.6,455.0 124.0,445.8 119.4,436.7 114.9,424.5 111.8,412.3 108.8,400.1 105.7,387.9 104.2,375.7 99.6,363.5 93.5,354.4 87.4,348.3 81.3,339.1 78.0,337.0 72.0,332.0 67.2,326.3 64.8,316.4 63.5,309.0 59.8,301.6 57.3,294.2 57.3,284.3 58.6,274.4 61.0,264.5 64.8,257.0 66.0,247.1 67.2,237.2" fill="#222222"/>
<polygon points="210.4,36.0 214.5,30.2 220.7,28.1 241.0,26.1 257.4,25.7 261.5,27.1 262.0,31.0 261.5,34.3 259.5,38.4 251.3,41.4 241.0,42.4 230.9,44.5 224.7,46.5 222.5,52.0 220.7,56.7 216.6,55.7 212.5,50.6 210.4,42.4" fill="#222222"/>
<polygon points="314.0,0.0 314.0,30.0 316.0,38.4 319.0,43.7 320.6,49.8 322.9,55.1 326.7,59.7 330.5,61.2 333.5,62.0 336.6,65.0 337.3,69.6 336.6,74.2 333.5,78.8 330.5,81.8 329.0,86.4 325.9,87.1 324.4,87.9 328.2,91.0 332.8,94.0 335.0,98.6 336.6,101.6 330.0,101.0 324.0,100.5 318.0,101.7 318.3,109.1 320.7,116.5 324.5,121.5 329.4,124.0 327.1,129.9 325.9,137.3 324.7,144.8 319.7,152.2 314.8,157.1 312.3,162.1 309.8,167.0 307.3,172.0 304.9,179.4 304.9,186.8 304.9,194.3 306.1,201.7 304.9,209.1 307.3,216.5 309.8,221.5 314.8,226.4 319.7,228.9 323.4,233.9 327.1,238.8 332.1,243.8 337.4,249.7 344.9,253.4 352.3,252.2 362.2,250.9 372.1,249.7 379.5,248.5 386.9,247.2 391.9,249.7 396.8,253.4 401.8,253.4 406.7,254.7 409.2,259.6 409.2,269.5 408.0,279.4 411.7,286.8 415.4,294.3 417.9,304.2 419.1,314.1 418.3,319.8 414.6,329.7 412.1,339.6 410.8,349.5 410.8,359.4 410.8,369.3 409.6,379.2 409.6,389.1 408.4,399.0 407.1,408.9 407.1,413.9 412.1,415.1 419.5,413.9 426.9,411.4 434.4,406.4 441.8,399.0 449.2,386.6 456.6,376.7 461.6,364.4 466.5,356.9 474.0,349.5 478.9,342.1 481.4,332.2 482.6,324.8 482.6,314.9 482.6,305.0 483.9,300.0 485.3,296.3 487.8,278.0 490.5,259.7 492.5,245.0 491.5,230.0 494.0,215.0 497.0,200.0 530.0,200.0 530.0,0.0" fill="#222222"/>
<polygon points="306.1,61.0 311.1,59.7 313.6,63.4 317.3,67.2 319.8,72.1 323.5,74.6 327.2,77.1 330.9,78.3 329.7,82.0 326.0,84.5 323.5,88.2 319.8,87.0 317.3,82.0 316.0,78.3 314.8,74.6 313.6,70.9 311.1,67.2 307.4,64.7" fill="#222222"/>
<polygon points="303.0,69.6 307.6,68.9 309.9,71.9 309.1,75.7 306.1,76.5 303.0,74.2" fill="#222222"/>
<polygon points="469.0,379.2 474.0,366.8 480.1,352.0 485.1,342.1 488.8,332.2 491.3,327.2 490.0,337.1 486.3,349.5 481.4,361.9 476.4,371.8 471.5,379.2" fill="#222222"/>
<polygon points="178.0,510.0 190.0,511.0 200.0,512.0 214.0,514.0 230.0,516.0 245.7,516.5 258.8,513.9 272.0,511.2 290.4,510.0 306.0,508.6 322.0,507.3 332.4,506.0 338.0,504.5 345.0,504.0 345.0,530.0 175.0,530.0" fill="#222222"/>
<polygon points="61.1,180.3 65.2,177.3 70.3,175.7 74.4,177.3 77.5,180.3 80.5,183.4 84.6,185.4 86.7,187.0 83.6,188.0 79.5,188.0 77.0,186.0 74.4,183.4 70.3,180.3 65.2,179.3 62.2,180.8" fill="#222222"/>
<polygon points="88.7,190.5 92.8,189.0 97.9,190.0 102.0,192.6 103.0,194.6 97.9,195.1 93.8,195.7 89.7,195.1 85.7,195.1 86.7,194.1" fill="#222222"/>
<polygon points="170.0,87.9 174.3,82.1 178.6,79.3 182.9,77.9 181.4,82.1 180.0,86.4 177.1,90.7 174.3,92.1" fill="#222222"/>
<polyline points="198.5,497.3 194.0,499.3 191.9,502.2 192.6,504.6 196.0,506.8 200.4,509.0 204.8,510.6 210.7,512.8 214.3,515.0" fill="none" stroke="#222222" stroke-width="3.4" stroke-linecap="round" stroke-linejoin="round"/>
<polyline points="39.5,141.0 33.0,153.0 28.0,164.0 24.5,175.0" fill="none" stroke="#222" stroke-width="0.7"/>
<polyline points="37.3,141.5 31.0,153.5 26.0,165.0 22.6,176.0" fill="none" stroke="#222" stroke-width="0.7"/>
<polygon points="131.2,64.2 135.0,59.6 144.2,54.3 153.3,50.5 157.9,49.7 160.2,52.8 156.4,56.6 151.8,61.1 145.7,65.7 139.6,68.8 136.6,71.8 132.8,77.9 131.2,76.4 135.0,69.5" fill="#ecf2f5"/>
<polygon points="146.0,57.0 152.0,53.0 158.0,51.0 156.0,56.0 150.0,61.0 144.0,64.0" fill="#75b2d4" filter="url(#bl)"/>
<polygon points="158.0,50.0 165.0,45.0 175.0,40.0 186.0,36.0 188.0,39.0 177.0,45.0 168.0,50.0 162.0,55.0 158.0,55.0" fill="#bbdaea"/>
<polygon points="160.0,36.0 180.0,30.0 197.0,28.5 196.0,32.0 180.0,34.5 165.0,39.0" fill="#d8e9f1"/>
<polygon points="153.0,81.7 160.0,80.5 169.4,79.4 172.0,80.5 170.0,84.0 165.9,87.6 163.5,92.0 156.0,92.5 151.9,89.9" fill="#d8e9f1"/>
<polygon points="169.4,54.0 176.0,53.7 179.9,56.0 174.0,60.7 169.4,59.0" fill="#bbdaea"/>
<clipPath id="oc0"><polygon points="330.7,126.8 337.2,124.6 344.9,122.4 347.1,115.8 349.3,107.1 356.9,102.7 365.7,101.6 369.0,107.1 372.3,112.6 375.5,113.6 381.0,115.8 386.5,114.7 389.8,108.2 387.6,103.8 392.0,107.1 397.4,113.6 402.9,118.0 408.4,122.4 412.8,124.6 418.2,126.8 424.8,130.1 431.4,135.5 437.9,142.1 442.3,145.0 440.1,146.5 431.4,143.2 422.6,141.0 416.0,145.4 411.7,146.5 407.3,143.2 400.7,138.8 392.0,136.6 383.2,132.3 376.6,125.7 370.1,121.3 363.5,120.2 354.7,123.5 343.8,125.7 336.1,129.0 330.7,129.0"/></clipPath><g clip-path="url(#oc0)">
<polygon points="330.7,126.8 337.2,124.6 344.9,122.4 347.1,115.8 349.3,107.1 356.9,102.7 365.7,101.6 369.0,107.1 372.3,112.6 375.5,113.6 381.0,115.8 386.5,114.7 389.8,108.2 387.6,103.8 392.0,107.1 397.4,113.6 402.9,118.0 408.4,122.4 412.8,124.6 418.2,126.8 424.8,130.1 431.4,135.5 437.9,142.1 442.3,145.0 440.1,146.5 431.4,143.2 422.6,141.0 416.0,145.4 411.7,146.5 407.3,143.2 400.7,138.8 392.0,136.6 383.2,132.3 376.6,125.7 370.1,121.3 363.5,120.2 354.7,123.5 343.8,125.7 336.1,129.0 330.7,129.0" fill="#f6af8e"/>
<polygon points="330.0,100.0 372.0,100.0 372.0,130.0 330.0,130.0" fill="#da6853"/>
<polygon points="347.0,107.0 361.0,107.0 361.0,120.0 347.0,120.0" fill="#b41c2d"/>
<polygon points="365.0,121.0 414.0,126.0 420.0,147.0 370.0,147.0" fill="#4997c5"/>
<polygon points="388.0,106.0 414.0,106.0 414.0,130.0 388.0,130.0" fill="#c84440"/>
<polygon points="414.0,126.0 445.0,126.0 445.0,150.0 414.0,150.0" fill="#9bc9e0"/>
<polygon points="426.0,128.0 445.0,128.0 445.0,150.0 426.0,150.0" fill="#d8e9f1"/>
<g fill="#262626"><circle cx="349.3" cy="113.4" r="2.2"/><circle cx="356.0" cy="113.4" r="2.2"/></g>
<g fill="#262626"><circle cx="396.2" cy="113.4" r="2.2"/><circle cx="402.9" cy="113.4" r="2.2"/><circle cx="409.6" cy="113.4" r="2.2"/><circle cx="392.9" cy="120.2" r="2.2"/><circle cx="399.6" cy="120.2" r="2.2"/><circle cx="406.2" cy="120.2" r="2.2"/><circle cx="396.2" cy="127.0" r="2.2"/><circle cx="402.9" cy="127.0" r="2.2"/><circle cx="409.6" cy="127.0" r="2.2"/></g>
</g>
<clipPath id="oc1"><polygon points="332.0,44.0 338.0,45.0 344.0,50.0 350.0,55.0 353.0,61.0 350.0,64.0 344.0,60.0 338.0,55.0 334.0,50.0"/></clipPath><g clip-path="url(#oc1)">
<polygon points="332.0,44.0 338.0,45.0 344.0,50.0 350.0,55.0 353.0,61.0 350.0,64.0 344.0,60.0 338.0,55.0 334.0,50.0" fill="#bbdaea"/>
</g>
<clipPath id="oc2"><polygon points="349.0,56.0 356.0,57.0 360.0,60.0 361.0,66.0 358.0,70.0 350.0,70.0 343.0,70.0 339.0,67.0 344.0,65.0 350.0,63.0"/></clipPath><g clip-path="url(#oc2)">
<polygon points="349.0,56.0 356.0,57.0 360.0,60.0 361.0,66.0 358.0,70.0 350.0,70.0 343.0,70.0 339.0,67.0 344.0,65.0 350.0,63.0" fill="#f6af8e"/>
<polygon points="354.0,63.0 362.0,63.0 362.0,71.0 354.0,71.0" fill="#900d26"/>
<polygon points="339.0,65.0 348.0,65.0 348.0,71.0 339.0,71.0" fill="#bbdaea"/>
</g>
<polygon points="401.1,92.9 407.1,91.1 410.6,90.3 413.1,95.4 417.4,98.9 422.6,102.3 426.9,105.7 427.7,109.1 422.6,110.0 417.4,107.4 414.0,105.7 410.6,104.0 407.1,100.6 403.7,97.1" fill="#fff"/>
<polyline points="444.0,151.0 455.1,162.0 464.3,178.0 473.4,194.0 480.3,207.7 486.0,220.3" fill="none" stroke="#fff" stroke-width="2.2" stroke-linecap="round"/>
<polyline points="463.0,149.4 470.0,160.0 476.9,171.1" fill="none" stroke="#fff" stroke-width="1.6" stroke-linecap="round"/>
<polyline points="420.0,91.0 430.0,100.0 440.0,112.0 447.0,123.0" fill="none" stroke="#fff" stroke-width="2.2" stroke-linecap="round"/>
<polygon points="486.0,220.3 489.9,207.7 492.2,205.4 491.3,226.0 487.6,227.1" fill="#fff"/>
<polygon points="428.0,126.0 436.0,130.0 443.0,140.0 441.0,146.0 434.0,144.0 430.0,136.0" fill="#fff"/>
<polygon points="73.4,194.6 76.0,194.0 79.0,195.5 77.0,196.7 74.0,196.4" fill="#222222"/>
<ellipse cx="271.5" cy="47" rx="7.5" ry="2.6" fill="#222222"/>
</g>
<circle cx="251" cy="273" r="249.5" fill="none" stroke="#c4c4c4" stroke-width="1.1"/>
<rect x="551" y="46.70" width="29" height="23.03" fill="#67001f"/>
<rect x="551" y="69.43" width="29" height="23.03" fill="#900d26"/>
<rect x="551" y="92.15" width="29" height="23.03" fill="#b41c2d"/>
<rect x="551" y="114.88" width="29" height="23.03" fill="#c84440"/>
<rect x="551" y="137.60" width="29" height="23.03" fill="#da6853"/>
<rect x="551" y="160.32" width="29" height="23.03" fill="#ea8e70"/>
<rect x="551" y="183.05" width="29" height="23.03" fill="#f6af8e"/>
<rect x="551" y="205.78" width="29" height="23.03" fill="#facab1"/>
<rect x="551" y="228.50" width="29" height="23.03" fill="#fce2d2"/>
<rect x="551" y="251.23" width="29" height="23.03" fill="#f9f0eb"/>
<rect x="551" y="273.95" width="29" height="23.03" fill="#ecf2f5"/>
<rect x="551" y="296.68" width="29" height="23.03" fill="#d8e9f1"/>
<rect x="551" y="319.40" width="29" height="23.03" fill="#bbdaea"/>
<rect x="551" y="342.12" width="29" height="23.03" fill="#9bc9e0"/>
<rect x="551" y="364.85" width="29" height="23.03" fill="#75b2d4"/>
<rect x="551" y="387.57" width="29" height="23.03" fill="#4997c5"/>
<rect x="551" y="410.30" width="29" height="23.03" fill="#3480b9"/>
<rect x="551" y="433.03" width="29" height="23.03" fill="#2267ac"/>
<rect x="551" y="455.75" width="29" height="23.03" fill="#134c87"/>
<rect x="551" y="478.48" width="29" height="23.03" fill="#053061"/>
<polygon points="551,47.0 565.5,24.400000000000002 580,47.0" fill="#67001f"/>
<polygon points="551,500.9 565.5,522.8 580,500.9" fill="#053061"/>
<polygon points="551,46.7 565.5,24.400000000000002 580,46.7 580,501.2 565.5,522.8 551,501.2" fill="none" stroke="#d0d0d0" stroke-width="0.8"/>
<line x1="573.8" y1="46.70" x2="580" y2="46.70" stroke="#262626" stroke-width="1.1"/>
<text x="587.3" y="53.00" font-size="17.5" textLength="46.3" lengthAdjust="spacingAndGlyphs">0.010</text>
<line x1="576.5" y1="69.43" x2="580" y2="69.43" stroke="#262626" stroke-width="0.9"/>
<line x1="573.8" y1="92.15" x2="580" y2="92.15" stroke="#262626" stroke-width="1.1"/>
<text x="587.3" y="98.45" font-size="17.5" textLength="46.3" lengthAdjust="spacingAndGlyphs">0.008</text>
<line x1="576.5" y1="114.88" x2="580" y2="114.88" stroke="#262626" stroke-width="0.9"/>
<line x1="573.8" y1="137.60" x2="580" y2="137.60" stroke="#262626" stroke-width="1.1"/>
<text x="587.3" y="143.90" font-size="17.5" textLength="46.3" lengthAdjust="spacingAndGlyphs">0.006</text>
<line x1="576.5" y1="160.32" x2="580" y2="160.32" stroke="#262626" stroke-width="0.9"/>
<line x1="573.8" y1="183.05" x2="580" y2="183.05" stroke="#262626" stroke-width="1.1"/>
<text x="587.3" y="189.35" font-size="17.5" textLength="46.3" lengthAdjust="spacingAndGlyphs">0.004</text>
<line x1="576.5" y1="205.78" x2="580" y2="205.78" stroke="#262626" stroke-width="0.9"/>
<line x1="573.8" y1="228.50" x2="580" y2="228.50" stroke="#262626" stroke-width="1.1"/>
<text x="587.3" y="234.80" font-size="17.5" textLength="46.3" lengthAdjust="spacingAndGlyphs">0.002</text>
<line x1="576.5" y1="251.23" x2="580" y2="251.23" stroke="#262626" stroke-width="0.9"/>
<line x1="573.8" y1="273.95" x2="580" y2="273.95" stroke="#262626" stroke-width="1.1"/>
<text x="587.3" y="280.25" font-size="17.5" textLength="46.3" lengthAdjust="spacingAndGlyphs">0.000</text>
<line x1="576.5" y1="296.68" x2="580" y2="296.68" stroke="#262626" stroke-width="0.9"/>
<line x1="573.8" y1="319.40" x2="580" y2="319.40" stroke="#262626" stroke-width="1.1"/>
<text x="587.3" y="325.70" font-size="17.5" textLength="60.5" lengthAdjust="spacingAndGlyphs">−0.002</text>
<line x1="576.5" y1="342.12" x2="580" y2="342.12" stroke="#262626" stroke-width="0.9"/>
<line x1="573.8" y1="364.85" x2="580" y2="364.85" stroke="#262626" stroke-width="1.1"/>
<text x="587.3" y="371.15" font-size="17.5" textLength="60.5" lengthAdjust="spacingAndGlyphs">−0.004</text>
<line x1="576.5" y1="387.57" x2="580" y2="387.57" stroke="#262626" stroke-width="0.9"/>
<line x1="573.8" y1="410.30" x2="580" y2="410.30" stroke="#262626" stroke-width="1.1"/>
<text x="587.3" y="416.60" font-size="17.5" textLength="60.5" lengthAdjust="spacingAndGlyphs">−0.006</text>
<line x1="576.5" y1="433.03" x2="580" y2="433.03" stroke="#262626" stroke-width="0.9"/>
<line x1="573.8" y1="455.75" x2="580" y2="455.75" stroke="#262626" stroke-width="1.1"/>
<text x="587.3" y="462.05" font-size="17.5" textLength="60.5" lengthAdjust="spacingAndGlyphs">−0.008</text>
<line x1="576.5" y1="478.48" x2="580" y2="478.48" stroke="#262626" stroke-width="0.9"/>
<line x1="573.8" y1="501.20" x2="580" y2="501.20" stroke="#262626" stroke-width="1.1"/>
<text x="587.3" y="507.50" font-size="17.5" textLength="60.5" lengthAdjust="spacingAndGlyphs">−0.010</text>
<text transform="translate(676,379.3) rotate(-90)" font-size="24.5" textLength="206.7" lengthAdjust="spacingAndGlyphs">λ trend [year<tspan dy="-9" font-size="17">−1</tspan><tspan dy="9">]</tspan></text>
<text x="251" y="16.5" font-size="21.4" text-anchor="middle" textLength="178" lengthAdjust="spacingAndGlyphs">EN4.2.2 Salinity</text>
</svg></body></html>
